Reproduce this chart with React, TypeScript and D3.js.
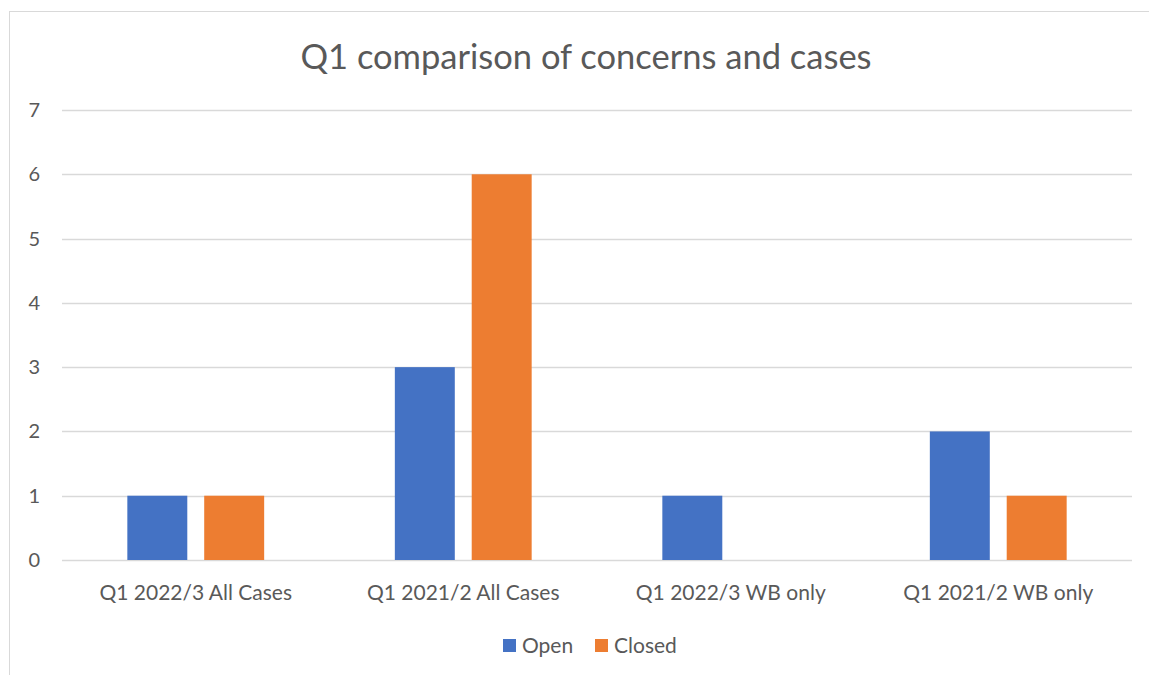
import React, { useEffect, useRef } from "react";
import * as d3 from "d3";

const categories = [
  "Q1 2022/3 All Cases",
  "Q1 2021/2 All Cases",
  "Q1 2022/3 WB only",
  "Q1 2021/2 WB only",
];
const openValues = [1, 3, 1, 2];
const closedValues = [1, 6, 0, 1];
const seriesNames = ["Open", "Closed"];
const seriesColors = ["#4472C4", "#ED7D31"];
const yTicks = [0, 1, 2, 3, 4, 5, 6, 7];

export default function App() {
  const svgRef = useRef<SVGSVGElement>(null);

  useEffect(() => {
    const svg = d3.select(svgRef.current);
    svg.selectAll("*").remove();

    const width = 1149;
    const height = 675;
    const font = "Lato, sans-serif";
    const textColor = "#595959";

    const left = 62;
    const right = 1132;
    const top = 110;
    const bottom = 560;

    // frame
    svg
      .append("rect")
      .attr("x", 9.5)
      .attr("y", 11.5)
      .attr("width", width + 20)
      .attr("height", height + 20)
      .attr("fill", "#fff")
      .attr("stroke", "#d9d9d9");

    svg
      .append("text")
      .attr("x", 586)
      .attr("y", 69)
      .attr("text-anchor", "middle")
      .style("font-family", font)
      .style("font-size", "34.5px")
      .style("fill", textColor)
      .text("Q1 comparison of concerns and cases");

    const x = d3.scaleBand().domain(categories).range([left, right]);
    const y = d3.scaleLinear().domain([0, 7]).range([bottom, top]);
    const inner = d3
      .scaleBand()
      .domain(seriesNames)
      .range([0, x.bandwidth()])
      .paddingInner(0.22)
      .paddingOuter(0.85);

    // gridlines
    svg
      .append("g")
      .selectAll("line")
      .data(yTicks)
      .join("line")
      .attr("x1", left)
      .attr("x2", right)
      .attr("y1", (d) => Math.round(y(d)) + 0.5)
      .attr("y2", (d) => Math.round(y(d)) + 0.5)
      .attr("stroke", "#d9d9d9")
      .attr("stroke-width", 1.3);

    svg
      .append("g")
      .selectAll("text")
      .data(yTicks)
      .join("text")
      .attr("x", 40)
      .attr("y", (d) => y(d) + 7)
      .attr("text-anchor", "end")
      .style("font-family", font)
      .style("font-size", "20px")
      .style("fill", textColor)
      .text((d) => d);

    const series = [openValues, closedValues];
    series.forEach((vals, si) => {
      svg
        .append("g")
        .selectAll("rect")
        .data(vals)
        .join("rect")
        .attr("x", (_, i) => x(categories[i])! + inner(seriesNames[si])!)
        .attr("width", inner.bandwidth())
        .attr("y", (d) => y(d))
        .attr("height", (d) => y(0) - y(d))
        .attr("fill", seriesColors[si]);
    });

    svg
      .append("g")
      .selectAll("text")
      .data(categories)
      .join("text")
      .attr("x", (d) => x(d)! + x.bandwidth() / 2)
      .attr("y", 600)
      .attr("text-anchor", "middle")
      .style("font-family", font)
      .style("font-size", "21px")
      .style("fill", textColor)
      .text((d) => d);

    // legend
    const legend = svg.append("g");
    const legendX = [503, 595];
    seriesNames.forEach((name, i) => {
      legend
        .append("rect")
        .attr("x", legendX[i])
        .attr("y", 639)
        .attr("width", 13)
        .attr("height", 13)
        .attr("fill", seriesColors[i]);
      legend
        .append("text")
        .attr("x", legendX[i] + 19)
        .attr("y", 653)
        .style("font-family", font)
        .style("font-size", "21px")
        .style("fill", textColor)
        .text(name);
    });
  }, []);

  return (
    <svg
      ref={svgRef}
      width={1149}
      height={675}
      style={{ position: "absolute", left: 0, top: 0, background: "#fff" }}
    ></svg>
  );
}
